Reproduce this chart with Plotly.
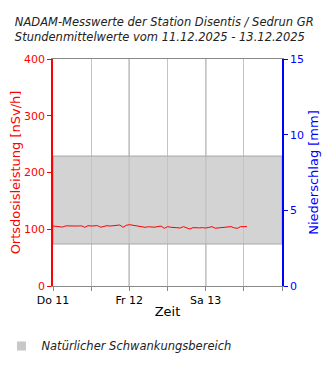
import plotly.graph_objects as go
import pandas as pd

# ---- data ----
start_time = "2025-12-11 00:00"
dose_values = [105.7, 105.5, 104.8, 103.8, 106.0, 106.3, 105.8, 105.7, 105.8, 106.0,
               103.4, 106.3, 105.7, 106.2, 106.3, 103.6, 104.8, 106.3, 105.6, 105.8,
               106.4, 107.5, 103.4, 106.8, 108.1, 107.3, 105.2, 104.6, 103.8, 103.4,
               104.4, 104.0, 103.6, 104.8, 105.5, 101.6, 104.6, 103.6, 103.4, 102.4,
               102.2, 104.6, 102.8, 100.4, 102.8, 102.2, 102.4, 102.8, 102.2, 103.2,
               104.6, 101.8, 102.4, 102.2, 102.6, 103.0, 104.6, 102.4, 101.6, 104.6,
               104.0, 104.6]
precip_values = []
band_low = 74
band_high = 229
x_range = ["2025-12-11 00:00", "2025-12-14 00:00"]
tick_dates = ["2025-12-11 00:00", "2025-12-11 12:00", "2025-12-12 00:00", "2025-12-12 12:00",
              "2025-12-13 00:00", "2025-12-13 12:00", "2025-12-14 00:00"]
tick_labels = ["Do 11", "", "Fr 12", "", "Sa 13", "", ""]
midnight_lines = ["2025-12-12 00:00", "2025-12-13 00:00"]

times = pd.date_range(start_time, periods=len(dose_values), freq="h")
FONT = "DejaVu Sans"

fig = go.Figure()
fig.add_trace(go.Scatter(
    x=[x_range[0], x_range[1], x_range[1], x_range[0], x_range[0]],
    y=[band_low, band_low, band_high, band_high, band_low],
    fill="toself", fillcolor="rgba(197,197,197,0.76)",
    line=dict(color="#a8a8a8", width=1), mode="lines",
    showlegend=False, hoverinfo="skip"))
fig.add_trace(go.Scatter(
    x=[None], y=[None], mode="markers",
    marker=dict(symbol="square", size=9, color="#c8c8c8"),
    name="<i>Natürlicher Schwankungsbereich</i>", showlegend=True))
fig.add_trace(go.Scatter(x=times, y=dose_values, mode="lines",
                         line=dict(color="red", width=1), showlegend=False))
fig.add_trace(go.Bar(x=[], y=precip_values, yaxis="y2", showlegend=False))

for d in midnight_lines:
    fig.add_shape(type="line", xref="x", yref="paper", x0=d, x1=d, y0=0, y1=1,
                  line=dict(color="black", width=1), layer="below")

fig.update_layout(
    width=330, height=370,
    margin=dict(l=53, r=48, t=59, b=84, autoexpand=False),
    plot_bgcolor="white", paper_bgcolor="white",
    font=dict(family=FONT, size=11, color="black"),
    title=dict(
        text="<i>NADAM-Messwerte der Station Disentis / Sedrun GR<br>Stundenmittelwerte vom 11.12.2025 - 13.12.2025</i>",
        x=0.045, xanchor="left", y=0.93, yanchor="top",
        font=dict(family=FONT, size=11.5, color="#222")),
    xaxis=dict(type="date", range=x_range, tickvals=tick_dates, ticktext=tick_labels,
               showgrid=True, gridcolor="#c4c4c4", gridwidth=1,
               ticks="outside", ticklen=4, tickcolor="#888",
               showline=True, linecolor="#888", linewidth=1, mirror=True,
               tickfont=dict(size=11, color="black"),
               title=dict(text="Zeit", font=dict(size=13), standoff=0),
               zeroline=False),
    yaxis=dict(range=[0, 400], tickvals=[0, 100, 200, 300, 400],
               showgrid=False, zeroline=False,
               ticks="outside", ticklen=4, tickcolor="red",
               showline=True, linecolor="red", linewidth=1.5,
               tickfont=dict(size=11, color="red"),
               title=dict(text="Ortsdosisleistung [nSv/h]", font=dict(size=13, color="red"), standoff=0)),
    yaxis2=dict(range=[0, 15], tickvals=[0, 5, 10, 15], overlaying="y", side="right",
                showgrid=False, zeroline=False,
                ticks="outside", ticklen=4, tickcolor="blue",
                showline=True, linecolor="blue", linewidth=1.5,
                tickfont=dict(size=11, color="blue"),
                title=dict(text="Niederschlag [mm]", font=dict(size=13, color="blue"), standoff=6)),
    legend=dict(x=-0.225, xanchor="left", y=-0.2, yanchor="top",
                font=dict(family=FONT, size=11.5, color="#222"),
                bgcolor="rgba(0,0,0,0)", itemwidth=30),
)

fig.write_html("out.html")
